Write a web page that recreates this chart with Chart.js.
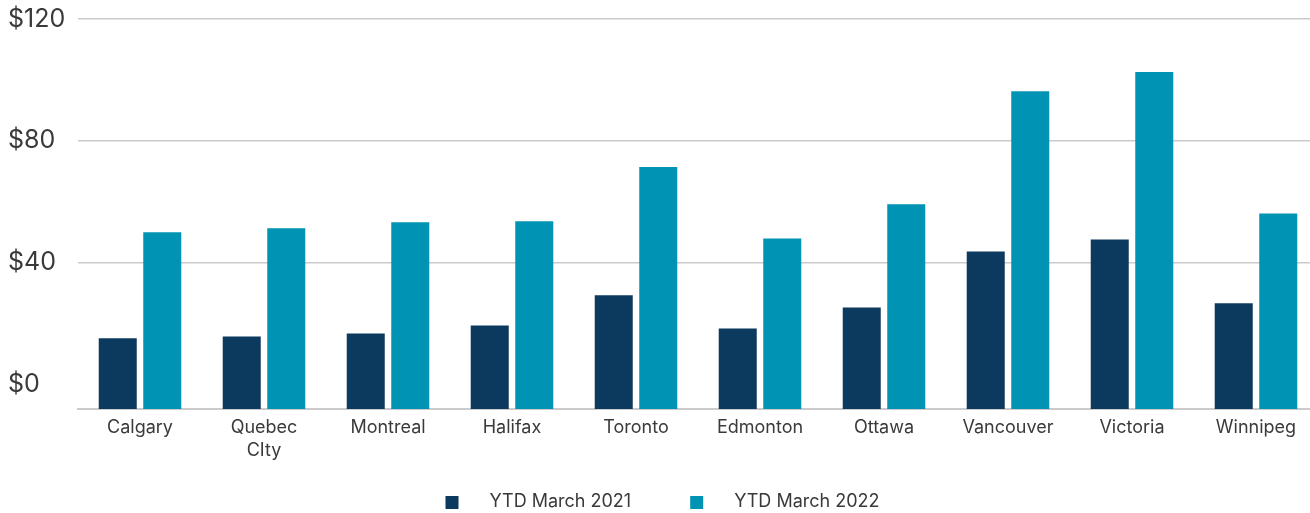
<!DOCTYPE html>
<html>
<head>
<meta charset="utf-8">
<script src="https://cdn.jsdelivr.net/npm/chart.js@4"></script>
<style>
  html, body { margin: 0; padding: 0; background: #fff; overflow: hidden; }
  #wrap { width: 1318px; height: 513px; }
</style>
</head>
<body>
<div id="wrap"><canvas id="chart"></canvas></div>
<script>
// data
const cities = ['Calgary', ['Quebec', 'CIty'], 'Montreal', 'Halifax', 'Toronto', 'Edmonton', 'Ottawa', 'Vancouver', 'Victoria', 'Winnipeg'];
const ytd2021 = [15.2, 15.8, 16.8, 19.4, 29.3, 18.4, 25.3, 43.7, 47.6, 26.7];
const ytd2022 = [50.0, 51.3, 53.3, 53.6, 71.4, 48.0, 59.2, 96.3, 102.6, 56.2];
const seriesNames = ['YTD March 2021', 'YTD March 2022'];
const yTicks = [0, 40, 80, 120];
const yMin = -8;
const yMax = 120;

const darkBlue = '#0c3a5f';
const teal = '#0093b4';
const textColor = '#3a3a3a';
const gridColor = '#cbcbcb';

// legend swatch: square with some space before it, so the gap to the text is wider
function swatch(color) {
  const c = document.createElement('canvas');
  c.width = 62; c.height = 13;
  const g = c.getContext('2d');
  g.fillStyle = color;
  g.fillRect(27, 0, 13, 13);
  return c;
}

// the legend sits a bit left of centre in the reference
const legendNudge = {
  id: 'legendNudge',
  afterLayout(chart) {
    chart.legend.left -= 14;
    chart.legend.right -= 14;
  }
};

const ctx = document.getElementById('chart');
new Chart(ctx, {
  type: 'bar',
  data: {
    labels: cities,
    datasets: [
      { label: seriesNames[0], data: ytd2021, backgroundColor: darkBlue, base: yMin,
        categoryPercentage: 0.718, barPercentage: 0.854 },
      { label: seriesNames[1], data: ytd2022, backgroundColor: teal, base: yMin,
        categoryPercentage: 0.718, barPercentage: 0.854 }
    ]
  },
  options: {
    responsive: true,
    maintainAspectRatio: false,
    animation: false,
    layout: { padding: { top: 19, left: 8, right: 0, bottom: -8 } },
    scales: {
      x: {
        grid: { display: false, drawTicks: false },
        border: { display: true, color: gridColor, width: 2 },
        ticks: { color: textColor, font: { family: 'Inter', size: 18, lineHeight: 1.28 }, padding: 7, maxRotation: 0 },
        afterFit: (scale) => { scale.height = 52; }
      },
      y: {
        min: yMin,
        max: yMax,
        afterBuildTicks: (scale) => { scale.ticks = yTicks.map(v => ({ value: v })); },
        afterFit: (scale) => {
          scale.width = 70;
          scale.paddingTop = 0;
          scale.paddingBottom = 0;
        },
        grid: {
          color: (c) => (c.tick && c.tick.value === 0) ? 'rgba(0,0,0,0)' : gridColor,
          lineWidth: 1.5,
          drawTicks: false
        },
        border: { display: false },
        ticks: {
          color: textColor,
          font: { family: 'Inter', size: 25 },
          crossAlign: 'far',
          padding: 8,
          callback: (v) => '$' + v
        }
      }
    },
    plugins: {
      tooltip: { enabled: false },
      legend: {
        position: 'bottom',
        labels: {
          color: textColor,
          font: { family: 'Inter', size: 18 },
          usePointStyle: true,
          pointStyleWidth: 62,
          padding: 32,
          generateLabels: (chart) => {
            const items = Chart.defaults.plugins.legend.labels.generateLabels(chart);
            items.forEach((it, i) => {
              it.pointStyle = swatch(chart.data.datasets[i].backgroundColor);
              it.lineWidth = 0;
            });
            return items;
          }
        }
      }
    }
  },
  plugins: [legendNudge]
});
</script>
</body>
</html>
